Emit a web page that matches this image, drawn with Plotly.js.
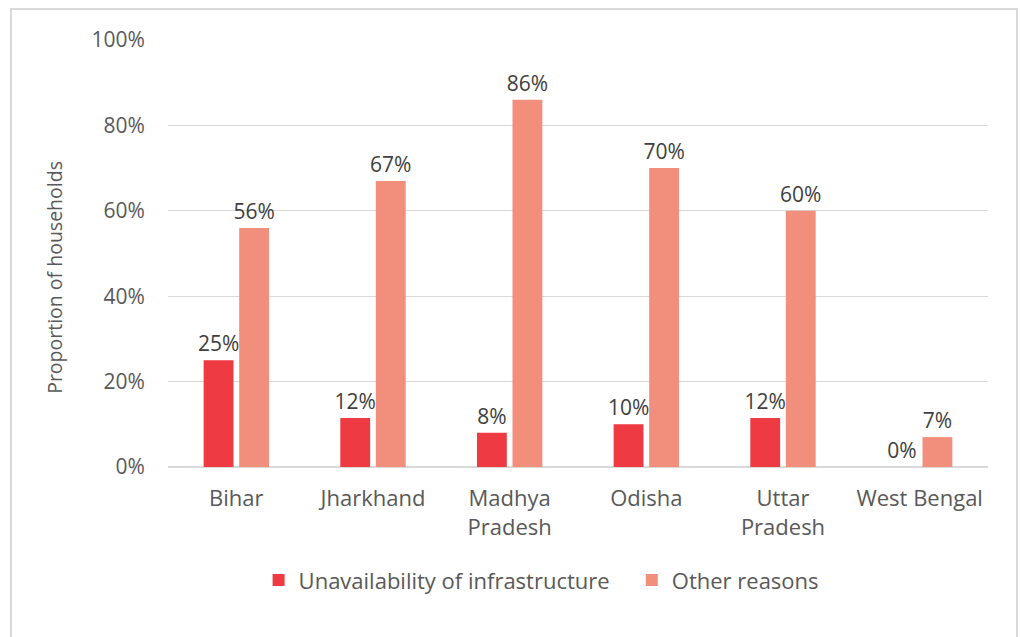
<!DOCTYPE html>
<html>
<head>
<meta charset="utf-8">
<script src="https://cdn.plot.ly/plotly-3.0.1.min.js"></script>
<style>
  html, body { margin: 0; padding: 0; background: #ffffff; }
  #frame { position: absolute; left: 10px; top: 8px; width: 1008px; height: 640px; border: 2px solid #d9d9d9; box-sizing: border-box; }
  #chart { position: absolute; left: 0; top: 0; width: 1020px; height: 637px; }
</style>
</head>
<body>
<div id="frame"></div>
<div id="chart"></div>
<script>
const categories = ["Bihar", "Jharkhand", "Madhya<br>Pradesh", "Odisha", "Uttar<br>Pradesh", "West Bengal"];
const infraValues = [25, 11.5, 8, 10, 11.5, 0];
const infraLabels = ["25%", "12%", "8%", "10%", "12%", "0%"];
const otherValues = [56, 67, 86, 70, 60, 7];
const otherLabels = ["56%", "67%", "86%", "70%", "60%", "7%"];
const seriesNames = ["Unavailability of infrastructure", "Other reasons"];
const yTickVals = [0, 20, 40, 60, 80, 100];
const yTickText = ["0%", "20%", "40%", "60%", "80%", "100%"];
const yAxisTitle = "Proportion of households";

const font = "'Open Sans', sans-serif";
const legendPad = "\u00A0\u00A0\u00A0";

const traces = [
  {
    type: "bar", name: seriesNames[0] + legendPad, x: categories, y: infraValues,
    text: infraLabels, textposition: "outside", cliponaxis: false,
    textfont: {family: font, size: 21, color: "#404040"},
    marker: {color: "#EE3A43"}, hoverinfo: "none"
  },
  {
    type: "bar", name: seriesNames[1], x: categories, y: otherValues,
    text: otherLabels, textposition: "outside", cliponaxis: false,
    textfont: {family: font, size: 21, color: "#404040"},
    marker: {color: "#F28E7C"}, hoverinfo: "none"
  }
];

const layout = {
  width: 1020, height: 637,
  paper_bgcolor: "rgba(0,0,0,0)", plot_bgcolor: "rgba(0,0,0,0)",
  margin: {l: 168, r: 32, t: 40, b: 170},
  barmode: "group", bargap: 0.48, bargroupgap: 0.16,
  uniformtext: {mode: "show", minsize: 21},
  font: {family: font, size: 21, color: "#595959"},
  showlegend: true,
  legend: {
    orientation: "h", x: 0.455, xanchor: "center", y: -0.265, yanchor: "middle",
    font: {family: font, size: 22, color: "#595959"},
    itemwidth: 30, tracegroupgap: 0
  },
  xaxis: {
    type: "category", showgrid: false, showline: false, zeroline: false,
    ticks: "", ticklabelstandoff: 16,
    tickfont: {family: font, size: 22, color: "#595959"}
  },
  yaxis: {
    range: [0, 100], tickvals: yTickVals, ticktext: yTickText,
    showgrid: true, gridcolor: "#d9d9d9", gridwidth: 1.3,
    zeroline: true, zerolinecolor: "#d9d9d9", zerolinewidth: 1.5,
    showline: false, ticks: "outside", ticklen: 18, tickcolor: "rgba(0,0,0,0)",
    tickfont: {family: font, size: 21, color: "#595959"}
  },
  annotations: [{
    text: yAxisTitle, textangle: -90, showarrow: false,
    xref: "paper", yref: "paper", x: -0.138, y: 0.445,
    xanchor: "center", yanchor: "middle",
    font: {family: font, size: 19.5, color: "#595959"}
  }]
};

Plotly.newPlot("chart", traces, layout, {displayModeBar: false, staticPlot: true});
</script>
</body>
</html>
